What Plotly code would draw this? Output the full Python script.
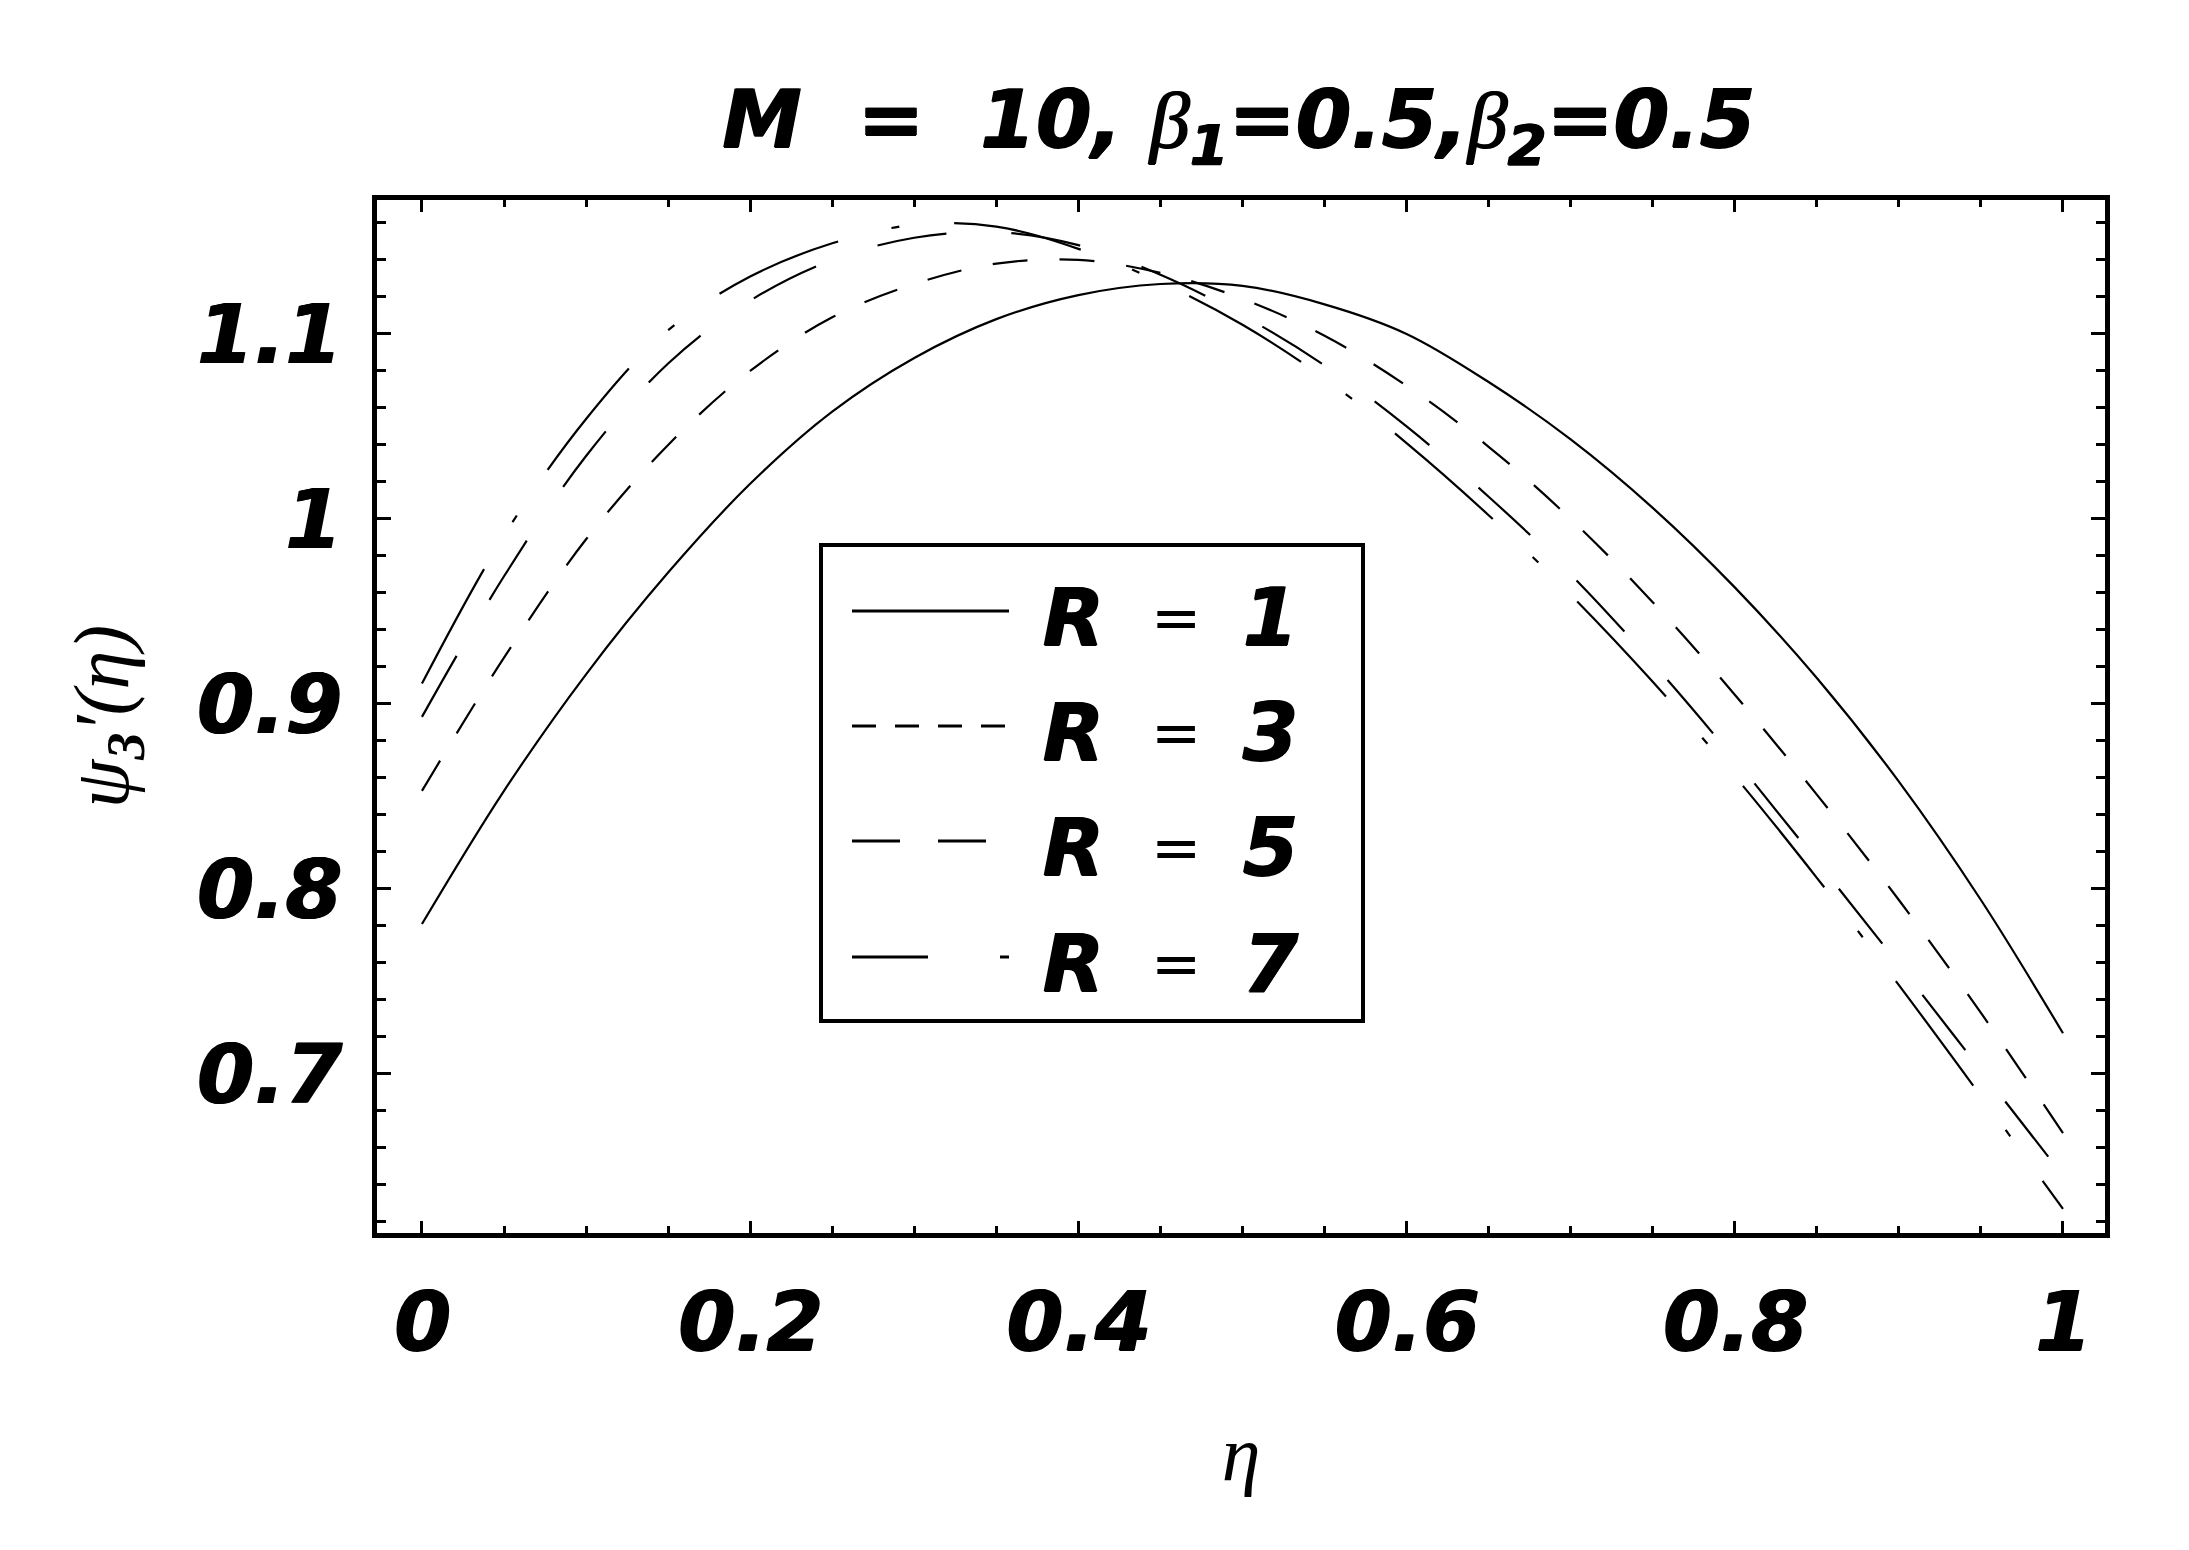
import plotly.graph_objects as go

# ---------------- data ----------------
eta = [0.00, 0.05, 0.10, 0.15, 0.20, 0.25, 0.30, 0.35, 0.40, 0.45, 0.50,
       0.55, 0.60, 0.65, 0.70, 0.75, 0.80, 0.85, 0.90, 0.95, 1.00]

psi_R1 = [0.781, 0.853, 0.916, 0.971, 1.019, 1.058, 1.087, 1.108, 1.121, 1.127, 1.126,
          1.116, 1.100, 1.074, 1.043, 1.006, 0.963, 0.914, 0.858, 0.794, 0.722]
psi_R3 = [0.853, 0.925, 0.989, 1.040, 1.080, 1.109, 1.127, 1.138, 1.140, 1.133, 1.119,
          1.099, 1.072, 1.039, 1.000, 0.955, 0.905, 0.851, 0.794, 0.733, 0.668]
psi_R5 = [0.893, 0.969, 1.034, 1.084, 1.118, 1.140, 1.152, 1.155, 1.148, 1.132, 1.110,
          1.083, 1.050, 1.012, 0.970, 0.922, 0.870, 0.815, 0.759, 0.702, 0.645]
psi_R7 = [0.911, 0.991, 1.054, 1.102, 1.131, 1.149, 1.159, 1.158, 1.146, 1.128, 1.105,
          1.076, 1.041, 1.002, 0.959, 0.912, 0.861, 0.806, 0.748, 0.688, 0.627]

R_values = ["1", "3", "5", "7"]
series = [psi_R1, psi_R3, psi_R5, psi_R7]

x_ticks = [0, 0.2, 0.4, 0.6, 0.8, 1.0]
x_ticktext = ["0", "0.2", "0.4", "0.6", "0.8", "1"]
y_ticks = [0.7, 0.8, 0.9, 1.0, 1.1]
y_ticktext = ["0.7", "0.8", "0.9", "1", "1.1"]

# ---------------- styles ----------------
plot_dash = ["solid", "35px,32px", "70px,65px", "130px,55px,8px,55px"]
legend_dash = ["solid", "24px,19px", "48px,38px", "76px,72px,9px,40px"]
heavy = "1.6px 0px 0px black, 0.8px 0.8px 0px black"

W, H = 2189, 1550
L, R, T, B = 377, 84, 200, 317
pw, ph = W - L - R, H - T - B


def px_x(p):
    return (p - L) / pw


def px_y(p):
    return (H - B - p) / ph


fig = go.Figure()
for name, ys, dsh in zip(R_values, series, plot_dash):
    fig.add_trace(go.Scatter(
        x=eta, y=ys, mode="lines", name="R = " + name,
        line=dict(color="black", width=2.2, dash=dsh, shape="spline", smoothing=1.0),
        showlegend=False,
    ))

tick_font = dict(family="DejaVu Sans", size=82, color="black", weight="bold",
                 style="italic", shadow=heavy)

fig.update_xaxes(
    range=[-0.0274, 1.0256], tickmode="array", tickvals=x_ticks, ticktext=x_ticktext,
    ticks="inside", ticklen=12, tickwidth=3, tickcolor="black",
    minor=dict(tickmode="linear", tick0=0, dtick=0.05, ticks="inside", ticklen=7,
               tickwidth=2.5, tickcolor="black"),
    showline=True, linewidth=5, linecolor="black", mirror="allticks",
    showgrid=False, zeroline=False, tickfont=tick_font, ticklabelstandoff=14,
    title=dict(text="<i>η</i>", font=dict(family="Liberation Serif", size=78, color="black"),
               standoff=58),
)
fig.update_yaxes(
    range=[0.614, 1.1724], tickmode="array", tickvals=y_ticks, ticktext=y_ticktext,
    ticks="inside", ticklen=14, tickwidth=3, tickcolor="black",
    minor=dict(tickmode="linear", tick0=0, dtick=0.02, ticks="inside", ticklen=9,
               tickwidth=2.5, tickcolor="black"),
    showline=True, linewidth=5, linecolor="black", mirror="allticks",
    showgrid=False, zeroline=False, tickfont=tick_font, ticklabelstandoff=14,
    title=dict(text="<i>ψ</i><sub><b><i>3</i></b></sub><i>′(η)</i>",
               font=dict(family="Liberation Serif", size=78, color="black"),
               standoff=44),
)

title_txt = ("<b><i>M\u00a0\u00a0=\u00a0\u00a010,\u00a0</i></b>"
             "<span style='font-family:Liberation Serif'><i>β</i></span><sub><b><i>1</i></b></sub>"
             "<b><i>=0.5,</i></b>"
             "<span style='font-family:Liberation Serif'><i>β</i></span><sub><b><i>2</i></b></sub>"
             "<b><i>=0.5</i></b>")

# ---------------- manual legend (long line samples as in the reference) ----------------
box_x0, box_x1, box_top, box_bot = 821, 1363, 545, 1021
sample_x0, sample_x1 = 852, 1009
row_y = [611, 726, 841, 957]
shapes = [dict(type="rect", xref="paper", yref="paper",
               x0=px_x(box_x0), x1=px_x(box_x1), y0=px_y(box_bot), y1=px_y(box_top),
               line=dict(color="black", width=4), fillcolor="white", layer="above")]
annotations = []
leg_font = dict(family="DejaVu Sans", size=80, color="black", shadow=heavy)
for name, dsh, yy in zip(R_values, legend_dash, row_y):
    shapes.append(dict(type="line", xref="paper", yref="paper",
                       x0=px_x(sample_x0), x1=px_x(sample_x1), y0=px_y(yy), y1=px_y(yy),
                       line=dict(color="black", width=3, dash=dsh), layer="above"))
    annotations.append(dict(xref="paper", yref="paper", x=px_x(1040), y=px_y(yy + 6),
                            xanchor="left", yanchor="middle", showarrow=False,
                            text="<b><i>R</i></b>", font=leg_font))
    annotations.append(dict(xref="paper", yref="paper", x=px_x(1176), y=px_y(yy + 6),
                            xanchor="center", yanchor="middle", showarrow=False,
                            text="=", font=dict(family="DejaVu Sans", size=60, color="black")))
    annotations.append(dict(xref="paper", yref="paper", x=px_x(1240), y=px_y(yy + 6),
                            xanchor="left", yanchor="middle", showarrow=False,
                            text="<b><i>" + name + "</i></b>", font=leg_font))

fig.update_layout(
    width=W, height=H,
    margin=dict(l=L, r=R, t=T, b=B, pad=0),
    paper_bgcolor="white", plot_bgcolor="white",
    title=dict(text=title_txt, x=px_x(1238), xref="paper", xanchor="center",
               y=1 - 119 / H, yanchor="middle",
               font=dict(family="DejaVu Sans", size=80, color="black", shadow=heavy)),
    shapes=shapes, annotations=annotations,
    showlegend=False,
)

fig.write_html("out.html")
